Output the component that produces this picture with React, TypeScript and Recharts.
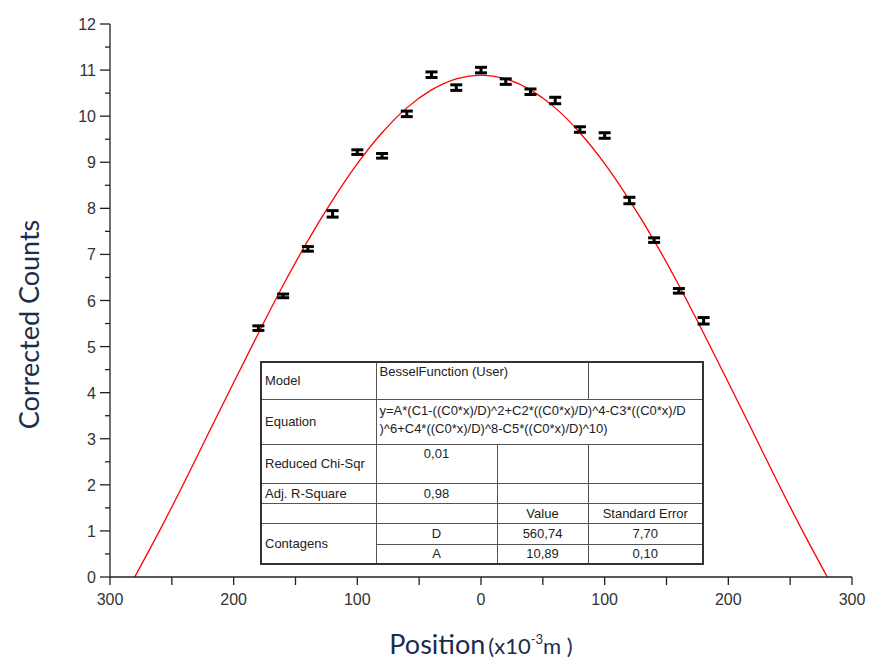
import { ComposedChart, ErrorBar, Label, Line, Scatter, XAxis, YAxis } from 'recharts'

// measured positions (x10^-3 m) and corrected counts
const positions = [-180, -160, -140, -120, -100, -80, -60, -40, -20, 0, 20, 40, 60, 80, 100, 120, 140, 160, 180]
const counts = [5.4, 6.1, 7.12, 7.88, 9.22, 9.14, 10.05, 10.9, 10.62, 11.0, 10.75, 10.53, 10.34, 9.71, 9.58, 8.17, 7.31, 6.21, 5.56]
const countErrors = [0.05, 0.04, 0.05, 0.07, 0.05, 0.05, 0.06, 0.06, 0.06, 0.06, 0.06, 0.06, 0.07, 0.06, 0.06, 0.07, 0.05, 0.05, 0.07]

// Bessel fit curve
const fitPositions = [-280, -260, -240, -220, -200, -180, -160, -140, -120, -100, -80, -60, -40, -20, 0, 20, 40, 60, 80, 100, 120, 140, 160, 180, 200, 220, 240, 260, 280]
const fitCounts = [0, 1.0, 2.05, 3.14, 4.22, 5.29, 6.33, 7.3, 8.18, 8.97, 9.64, 10.18, 10.57, 10.81, 10.89, 10.81, 10.57, 10.18, 9.64, 8.97, 8.18, 7.3, 6.33, 5.29, 4.22, 3.14, 2.05, 1.0, 0]

const xTicks = [-300, -250, -200, -150, -100, -50, 0, 50, 100, 150, 200, 250, 300]
const yTicks = [0, 0.5, 1, 1.5, 2, 2.5, 3, 3.5, 4, 4.5, 5, 5.5, 6, 6.5, 7, 7.5, 8, 8.5, 9, 9.5, 10, 10.5, 11, 11.5, 12]

const points = positions.map((x, i) => ({ x, y: counts[i], err: countErrors[i] }))
const fit = fitPositions.map((x, i) => ({ x, y: fitCounts[i] }))

const tickFont = '"Liberation Sans", Arial, sans-serif'
const titleFont = 'Lato, "Open Sans", sans-serif'
const titleColor = '#1c2c4c'

function YTick(props: any) {
  const { x, y, payload } = props
  const major = Number.isInteger(payload.value)
  const ax = x + 12
  return (
    <g>
      <line x1={ax - (major ? 10 : 5)} x2={ax} y1={y} y2={y} stroke="#222" strokeWidth={1.3} />
      {major && (
        <text x={ax - 14} y={y} dy={6} textAnchor="end" fontSize={16} fill="#333" fontFamily={tickFont}>
          {payload.value}
        </text>
      )}
    </g>
  )
}

function XTick(props: any) {
  const { x, y, payload } = props
  if (payload.value % 100 !== 0) return <g />
  return (
    <text x={x} y={y} dy={18} textAnchor="middle" fontSize={16} fill="#333" fontFamily={tickFont}>
      {Math.abs(payload.value)}
    </text>
  )
}

function YTitle(props: any) {
  const { viewBox } = props
  const cy = viewBox.y + viewBox.height / 2 + 24
  return (
    <text x={32} y={cy} transform={`rotate(-90 32 ${cy})`} textAnchor="middle" dominantBaseline="middle" fontSize={27} fill={titleColor} fontFamily={titleFont}>
      Corrected Counts
    </text>
  )
}

function XTitle(props: any) {
  const { viewBox } = props
  const cx = viewBox.x + viewBox.width / 2
  return (
    <text x={cx} y={654} textAnchor="middle" fill={titleColor} fontFamily={titleFont}>
      <tspan fontSize={27}>Position</tspan>
      <tspan fontSize={22} dx={3}>(x10</tspan>
      <tspan fontSize={13} dy={-10}>-3</tspan>
      <tspan fontSize={22} dy={10}>m )</tspan>
    </text>
  )
}

const cell: React.CSSProperties = { border: '1px solid #555', padding: '0 3px', overflow: 'hidden' }

function FitTable() {
  return (
    <table
      style={{
        position: 'absolute',
        left: 260,
        top: 361,
        width: 442,
        height: 202,
        borderCollapse: 'collapse',
        border: '2px solid #333',
        background: '#fff',
        fontFamily: tickFont,
        fontSize: 13,
        color: '#222',
        tableLayout: 'fixed',
      }}
    >
      <colgroup>
        <col style={{ width: 115 }} />
        <col style={{ width: 121 }} />
        <col style={{ width: 91 }} />
        <col style={{ width: 115 }} />
      </colgroup>
      <tbody>
        <tr style={{ height: 37 }}>
          <td style={cell}>Model</td>
          <td style={{ ...cell, verticalAlign: 'top', paddingTop: 1 }} colSpan={2}>BesselFunction (User)</td>
          <td style={cell}></td>
        </tr>
        <tr style={{ height: 45 }}>
          <td style={cell}>Equation</td>
          <td style={{ ...cell, verticalAlign: 'top', paddingTop: 2, whiteSpace: 'nowrap', lineHeight: '18px' }} colSpan={3}>
            y=A*(C1-((C0*x)/D)^2+C2*((C0*x)/D)^4-C3*((C0*x)/D
            <br />
            )^6+C4*((C0*x)/D)^8-C5*((C0*x)/D)^10)
          </td>
        </tr>
        <tr style={{ height: 39 }}>
          <td style={cell}>Reduced Chi-Sqr</td>
          <td style={{ ...cell, textAlign: 'center', verticalAlign: 'top', paddingTop: 1 }}>0,01</td>
          <td style={cell}></td>
          <td style={cell}></td>
        </tr>
        <tr style={{ height: 20 }}>
          <td style={cell}>Adj. R-Square</td>
          <td style={{ ...cell, textAlign: 'center' }}>0,98</td>
          <td style={cell}></td>
          <td style={cell}></td>
        </tr>
        <tr style={{ height: 20 }}>
          <td style={cell}></td>
          <td style={cell}></td>
          <td style={{ ...cell, textAlign: 'center' }}>Value</td>
          <td style={{ ...cell, textAlign: 'center' }}>Standard Error</td>
        </tr>
        <tr style={{ height: 21 }}>
          <td style={cell} rowSpan={2}>Contagens</td>
          <td style={{ ...cell, textAlign: 'center' }}>D</td>
          <td style={{ ...cell, textAlign: 'center' }}>560,74</td>
          <td style={{ ...cell, textAlign: 'center' }}>7,70</td>
        </tr>
        <tr style={{ height: 20 }}>
          <td style={{ ...cell, textAlign: 'center' }}>A</td>
          <td style={{ ...cell, textAlign: 'center' }}>10,89</td>
          <td style={{ ...cell, textAlign: 'center' }}>0,10</td>
        </tr>
      </tbody>
    </table>
  )
}

export default function App() {
  return (
    <div style={{ position: 'absolute', left: 0, top: 0, width: 869, height: 661, background: '#fff' }}>
      <ComposedChart width={869} height={661} margin={{ top: 24, right: 17, left: 0, bottom: 0 }}>
        <XAxis
          type="number"
          dataKey="x"
          domain={[-300, 300]}
          ticks={xTicks}
          tick={<XTick />}
          tickSize={8}
          height={84}
          stroke="#222"
          strokeWidth={1.3}
          allowDataOverflow
        >
          <Label content={<XTitle />} />
        </XAxis>
        <YAxis
          type="number"
          domain={[0, 12]}
          ticks={yTicks}
          tick={<YTick />}
          tickLine={false}
          tickSize={8}
          tickMargin={4}
          width={110}
          stroke="#222"
          strokeWidth={1.3}
          interval={0}
        >
          <Label content={<YTitle />} />
        </YAxis>
        <Line data={fit} dataKey="y" type="monotone" stroke="#ff0000" strokeWidth={1.3} dot={false} isAnimationActive={false} />
        <Scatter data={points} dataKey="y" shape={() => <g />} isAnimationActive={false}>
          <ErrorBar dataKey="err" direction="y" width={6} stroke="#000" strokeWidth={3} isAnimationActive={false} />
        </Scatter>
      </ComposedChart>
      <FitTable />
    </div>
  )
}
